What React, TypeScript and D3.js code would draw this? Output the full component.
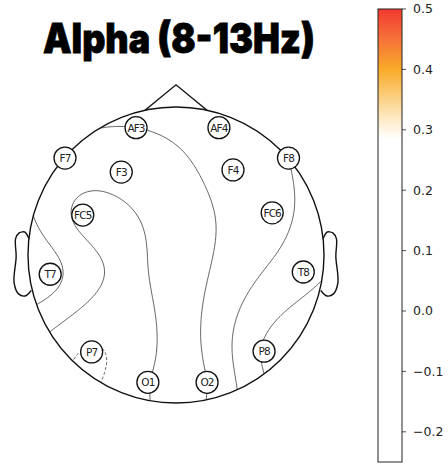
import React, { useMemo } from "react";
import * as d3 from "d3";

// EEG channels on a unit head circle (x to the right, y toward the nose)
const channels = ["AF3", "AF4", "F7", "F8", "F3", "F4", "FC5", "FC6", "T7", "T8", "P7", "P8", "O1", "O2"];
const sensorX = [-0.27, 0.29, -0.75, 0.76, -0.37, 0.385, -0.63, 0.65, -0.85, 0.86, -0.57, 0.595, -0.19, 0.21];
const sensorY = [0.86, 0.86, 0.655, 0.655, 0.56, 0.575, 0.27, 0.285, -0.13, -0.115, -0.655, -0.65, -0.86, -0.86];
// alpha band value per channel
const alphaPower = [0.05, 0.07, 0.04, 0.1, 0.022, 0.07, -0.012, 0.085, 0.068, 0.13, -0.055, 0.155, -0.002, 0.05];

const contourLevels = [-0.05, 0, 0.05, 0.1, 0.15];
const colorTicks = [0.5, 0.4, 0.3, 0.2, 0.1, 0.0, -0.1, -0.2];
const colorDomain: [number, number] = [-0.25, 0.5];
const colorStopValues = [-0.25, 0.285, 0.33, 0.4, 0.45, 0.5];
const colorStopColors = ["#ffffff", "#ffffff", "#fde2b0", "#f9aa28", "#f5723a", "#f23a2e"];

const title = "Alpha (8-13Hz)";

// head outline shape (in head radii)
const earX = [0.497, 0.51, 0.518, 0.5299, 0.5419, 0.54, 0.547, 0.532, 0.51, 0.489];
const earY = [0.0555, 0.0775, 0.0783, 0.0746, 0.0555, -0.0055, -0.0932, -0.1313, -0.1384, -0.1199];

const W = 448;
const H = 464;
const CX = 176;
const CY = 255;
const R = 148;

// thin-plate spline through the channel values
function fitSpline(xs: number[], ys: number[], vs: number[]) {
  const n = xs.length;
  const m = n + 3;
  const phi = (r: number) => (r > 1e-12 ? r * r * Math.log(r) : 0);
  const A: number[][] = Array.from({ length: m }, () => new Array(m + 1).fill(0));
  for (let i = 0; i < n; i++) {
    for (let j = 0; j < n; j++) {
      A[i][j] = phi(Math.hypot(xs[i] - xs[j], ys[i] - ys[j]));
    }
    A[i][n] = 1;
    A[i][n + 1] = xs[i];
    A[i][n + 2] = ys[i];
    A[n][i] = 1;
    A[n + 1][i] = xs[i];
    A[n + 2][i] = ys[i];
    A[i][m] = vs[i];
  }
  for (let c = 0; c < m; c++) {
    let p = c;
    for (let r = c + 1; r < m; r++) if (Math.abs(A[r][c]) > Math.abs(A[p][c])) p = r;
    [A[c], A[p]] = [A[p], A[c]];
    for (let r = 0; r < m; r++) {
      if (r === c) continue;
      const f = A[r][c] / A[c][c];
      for (let k = c; k <= m; k++) A[r][k] -= f * A[c][k];
    }
  }
  const w = A.map((row, i) => row[m] / row[i]);
  return (x: number, y: number) => {
    let s = w[n] + w[n + 1] * x + w[n + 2] * y;
    for (let i = 0; i < n; i++) s += w[i] * phi(Math.hypot(x - xs[i], y - ys[i]));
    return s;
  };
}

const GRID_N = 181;
const EXT = 1.1;
const STEP = (2 * EXT) / (GRID_N - 1);

export default function App() {
  const { bandPaths, linePaths } = useMemo(() => {
    const f = fitSpline(sensorX, sensorY, alphaPower);
    const values = new Array(GRID_N * GRID_N);
    for (let j = 0; j < GRID_N; j++) {
      const y = EXT - j * STEP;
      for (let i = 0; i < GRID_N; i++) {
        const x = -EXT + i * STEP;
        values[i + j * GRID_N] = f(x, y);
      }
    }
    const proj = d3.geoTransform({
      point(gx: number, gy: number) {
        const x = -EXT + (gx - 0.5) * STEP;
        const y = EXT - (gy - 0.5) * STEP;
        (this as any).stream.point(CX + x * R, CY - y * R);
      },
    });
    const path = d3.geoPath(proj);
    const gen = d3.contours().size([GRID_N, GRID_N]);
    const bandLevels = d3.range(colorDomain[0], colorDomain[1] + 1e-9, 0.01);
    const bandPaths = gen.thresholds(bandLevels)(values).map((c) => ({ v: c.value, d: path(c as any) || "" }));
    const linePaths = gen.thresholds(contourLevels)(values).map((c) => ({ v: c.value, d: path(c as any) || "" }));
    return { bandPaths, linePaths };
  }, []);

  const color = d3.scaleLinear<string>().domain(colorStopValues).range(colorStopColors).clamp(true);
  const cbY = d3.scaleLinear().domain(colorDomain).range([462, 9]);
  const cbX0 = 378;
  const cbX1 = 402;

  const px = (x: number) => CX + x * R;
  const py = (y: number) => CY - y * R;

  const noseAng = Math.acos((12 * Math.PI) / 180);
  const nose = [
    [-Math.cos(noseAng), Math.sin(noseAng)],
    [0, 1.15],
    [Math.cos(noseAng), Math.sin(noseAng)],
  ];
  const line = d3.line<number[]>().x((d) => px(d[0])).y((d) => py(d[1]));
  const earLine = d3
    .line<number[]>()
    .x((d) => px(d[0]))
    .y((d) => py(d[1]))
    .curve(d3.curveCatmullRom.alpha(0.5));
  const rightEar = earX.map((x, i) => [x * 2, earY[i] * 2]);
  const leftEar = earX.map((x, i) => [-x * 2, earY[i] * 2]);

  const fmt = (v: number) => d3.format(".1f")(v).replace("-", "\u2212");

  return (
    <svg width={W} height={H} style={{ position: "absolute", left: 0, top: 0, background: "#fff" }}>
      <defs>
        <clipPath id="head-clip">
          <circle cx={CX} cy={CY} r={R} />
        </clipPath>
        <linearGradient id="cb-grad" x1="0" y1="1" x2="0" y2="0">
          {colorStopValues.map((v, i) => (
            <stop
              key={i}
              offset={(v - colorDomain[0]) / (colorDomain[1] - colorDomain[0])}
              stopColor={colorStopColors[i]}
            />
          ))}
        </linearGradient>
      </defs>

      <text
        x={179}
        y={53}
        textAnchor="middle"
        fontFamily="Inter, 'Noto Sans', sans-serif"
        fontWeight={900}
        fontSize={41}
        textLength={272}
        lengthAdjust="spacingAndGlyphs"
        stroke="#000"
        strokeWidth={0.8}
        fill="#000"
      >
        {title}
      </text>

      <g clipPath="url(#head-clip)">
        {bandPaths.map((b, i) => (
          <path key={i} d={b.d} fill={color(b.v + 0.005)} stroke="none" />
        ))}
        {linePaths.map((c, i) => (
          <path
            key={i}
            d={c.d}
            fill="none"
            stroke="#3a3a3a"
            strokeWidth={0.8}
            strokeDasharray={c.v < 0 ? "3,2" : undefined}
          />
        ))}
      </g>

      <g fill="none" stroke="#111" strokeWidth={1.4}>
        <circle cx={CX} cy={CY} r={R} />
        <path d={line(nose as number[][]) || ""} />
        <path d={earLine(rightEar) || ""} />
        <path d={earLine(leftEar) || ""} />
      </g>

      {channels.map((name, i) => (
        <g key={name} transform={`translate(${px(sensorX[i])},${py(sensorY[i])})`}>
          <circle r={11} fill="#fff" stroke="#111" strokeWidth={1.3} />
          <text
            textAnchor="middle"
            dominantBaseline="central"
            fontFamily="'DejaVu Sans', sans-serif"
            fontSize={10.5}
            letterSpacing={-0.9}
            fill="#222"
          >
            {name}
          </text>
        </g>
      ))}

      <rect x={cbX0} y={cbY(colorDomain[1])} width={cbX1 - cbX0} height={cbY(colorDomain[0]) - cbY(colorDomain[1])} fill="url(#cb-grad)" stroke="#222" strokeWidth={1} />
      {colorTicks.map((t) => (
        <g key={t} transform={`translate(${cbX1},${cbY(t)})`}>
          <line x1={0} x2={4} stroke="#222" strokeWidth={0.8} />
          <text x={11} dy="0.35em" fontFamily="'DejaVu Sans', sans-serif" fontSize={12.5} fill="#222">
            {fmt(t)}
          </text>
        </g>
      ))}
    </svg>
  );
}
